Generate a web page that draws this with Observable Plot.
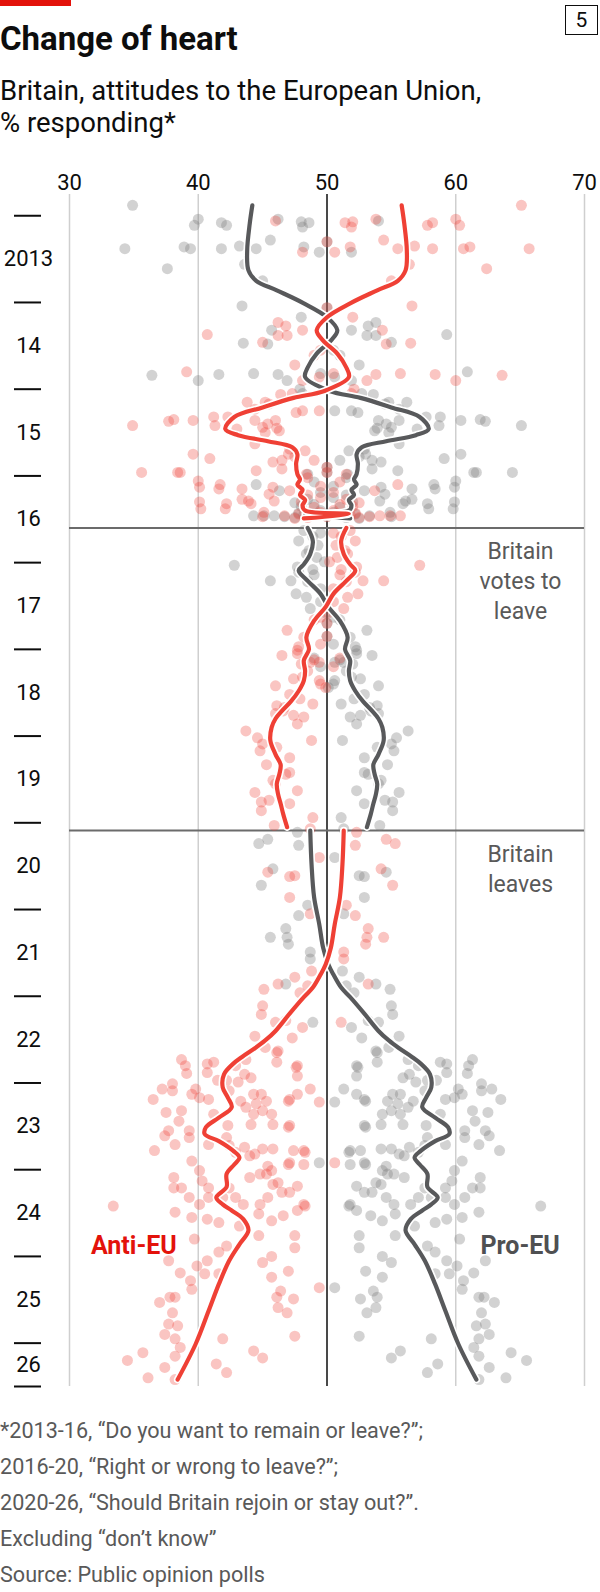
<!DOCTYPE html>
<html><head><meta charset="utf-8">
<script src="https://cdn.jsdelivr.net/npm/d3@7"></script>
<script src="https://cdn.jsdelivr.net/npm/@observablehq/plot@0.6"></script>
<style>
body{margin:0;background:#fff;font-family:Roboto,"Noto Sans",sans-serif;color:#0d0d0d}
#wrap{position:relative;width:600px;height:1592px;overflow:hidden;background:#fff}
.bar{position:absolute;left:0;top:0;width:71px;height:6px;background:#e3120b}
.title{position:absolute;left:0;top:22px;font-size:33px;font-weight:700;line-height:1;white-space:nowrap}
.num{position:absolute;left:565px;top:5px;width:31px;height:28px;border:1.5px solid #0d0d0d;font-size:21px;line-height:28px;text-align:center}
.sub{position:absolute;left:0;top:75px;font-size:27.5px;line-height:32px;white-space:nowrap}
#chart{position:absolute;left:0;top:150px}
.foot{position:absolute;left:0;top:1413px;font-size:21.6px;line-height:36px;color:#595959;white-space:nowrap}
</style></head>
<body><div id="wrap">
<div class="bar"></div>
<div class="title">Change of heart</div>
<div class="num">5</div>
<div class="sub">Britain, attitudes to the European Union,<br>% responding*</div>
<div id="chart"></div>
<div class="foot">*2013-16, “Do you want to remain or leave?”;<br>2016-20, “Right or wrong to leave?”;<br>2020-26, “Should Britain rejoin or stay out?”.<br>Excluding “don’t know”<br>Source: Public opinion polls</div>
</div>
<script>
// ---- data: [year, pro-EU %, anti-EU %] ----
const polls2013to16 = [
[2012.88,34.9,65.1],[2013.04,40.0,60.0],[2013.11,39.7,60.3],[2013.08,41.8,58.2],[2013.11,42.2,57.8],
[2013.04,46.2,53.8],[2013.07,48.0,52.0],[2013.08,48.6,51.4],[2013.13,48.1,51.9],[2013.06,54.0,46.0],
[2013.28,45.6,54.4],[2013.30,50.0,50.0],[2013.38,34.3,65.7],[2013.36,38.9,61.1],[2013.38,39.4,60.6],
[2013.38,41.8,58.2],[2013.35,43.2,56.8],[2013.38,44.5,55.5],[2013.36,48.2,51.8],[2013.42,49.4,50.6],
[2013.42,51.9,48.1],[2013.56,43.6,56.4],[2013.61,37.6,62.4],[2013.75,45.0,55.0],[2014.04,43.4,56.6],
[2014.06,50.0,50.0],[2014.17,48.0,52.0],[2014.23,53.8,46.2],[2014.27,53.2,46.8],[2014.32,45.7,54.3],
[2014.32,51.9,48.1],[2014.38,53.1,46.9],[2014.38,53.8,46.2],[2014.37,59.3,40.7],[2014.47,43.5,56.5],
[2014.48,45.4,54.6],[2014.46,55.0,45.0],[2014.55,50.5,49.5],[2014.61,51.0,49.0],[2014.72,52.5,47.5],
[2014.84,36.4,63.6],[2014.90,40.0,60.0],[2014.83,41.6,58.4],[2014.82,44.3,55.7],[2014.83,46.2,53.8],
[2014.90,46.9,53.1],[2014.90,51.9,48.1],[2014.80,60.9,39.1],[2014.86,50.6,49.4],[2014.82,49.5,50.5],
[2015.00,47.9,52.1],[2015.05,52.7,47.3],[2015.06,53.6,46.4],[2015.05,48.1,51.9],[2015.15,54.8,45.2],
[2015.15,56.2,43.8],[2015.17,54.5,45.5],[2015.25,50.6,49.4],[2015.25,51.9,48.1],[2015.23,55.6,44.4],
[2015.27,52.4,47.6],[2015.32,57.7,42.3],[2015.32,58.8,41.2],[2015.36,60.4,39.6],[2015.35,61.9,38.1],
[2015.37,62.3,37.7],[2015.42,65.1,34.9],[2015.36,54.0,46.0],[2015.40,54.6,45.4],[2015.36,55.6,44.4],
[2015.42,58.7,41.3],[2015.48,53.7,46.3],[2015.50,54.8,45.2],[2015.44,55.0,45.0],[2015.46,57.0,43.0],
[2015.45,53.9,46.1],[2015.63,55.6,44.4],[2015.75,60.4,39.6],[2015.80,59.1,40.9],[2015.69,52.9,47.1],
[2015.82,53.5,46.5],[2015.84,54.2,45.8],[2015.71,51.7,48.3],[2015.78,52.5,47.5],[2015.82,51.0,49.0],
[2015.75,53.0,47.0],[2015.96,61.6,38.4],[2015.96,64.4,35.6],[2015.94,55.5,44.5],[2015.92,53.5,46.5],
[2015.98,51.6,48.4],[2015.96,50.0,50.0],[2015.96,61.4,38.6],[2016.06,60.0,40.0],[2016.13,59.9,40.1],
[2016.15,56.6,43.4],[2016.15,58.4,41.6],[2016.13,54.2,45.8],[2016.10,44.5,55.5],[2016.17,46.3,53.7],
[2016.17,52.9,47.1],[2016.21,54.5,45.5],[2016.29,56.1,43.9],[2016.27,56.6,43.4],[2016.29,54.1,45.9],
[2016.38,59.8,40.2],[2016.38,57.9,42.1],[2016.25,50.5,49.5],[2016.30,52.0,48.0],[2016.33,49.0,51.0],
[2016.35,48.0,52.0],[2016.46,44.3,55.7],[2016.46,45.1,54.9],[2016.46,45.9,54.1],[2016.47,46.7,53.3],
[2016.48,47.5,52.5],[2016.45,48.2,51.8],[2016.47,50.0,50.0],[2016.48,51.5,48.5],[2016.49,52.5,47.5],
[2016.46,53.3,46.7],[2016.47,55.0,45.0],[2016.45,49.0,51.0],[2016.40,49.5,50.5],[2016.42,50.5,49.5],
[2016.36,51.0,49.0],[2016.43,47.8,52.2],[2016.44,52.2,47.8],[2016.31,47.5,52.5],[2016.27,48.5,51.5],
[2016.22,51.5,48.5],[2016.19,49.5,50.5],[2016.12,50.5,49.5],[2016.07,49.0,51.0],[2016.02,51.5,48.5],
[2015.98,48.5,51.5],[2015.90,50.0,50.0],[2016.30,59.9,40.1],[2016.32,57.8,42.2],[2016.32,55.9,44.1],
[2016.42,54.9,45.1],[2016.10,58.3,41.7]
];
const polls2016to20 = [
[2016.63,48.2,51.8],[2016.70,48.9,51.1],[2016.66,49.5,50.5],[2016.75,47.8,52.2],[2016.80,49.3,50.7],
[2016.86,48.6,51.4],[2016.90,48.4,51.6],[2016.94,49.2,50.8],[2016.99,49.8,50.2],[2017.03,42.8,57.2],
[2017.05,47.7,52.3],[2017.08,48.9,51.1],[2017.11,47.8,52.2],[2017.14,49.0,51.0],[2017.21,45.6,54.4],
[2017.21,47.2,52.8],[2017.22,48.5,51.5],[2017.30,49.5,50.5],[2017.36,47.6,52.4],[2017.40,48.4,51.6],
[2017.45,49.5,50.5],[2017.53,48.7,51.3],[2017.58,49.9,50.1],[2017.63,50.5,49.5],[2017.66,51.0,49.0],
[2017.70,50.0,50.0],[2017.78,53.1,46.9],[2017.85,50.0,50.0],[2017.86,51.8,48.2],[2017.94,50.5,49.5],
[2017.97,52.2,47.8],[2018.01,52.3,47.7],[2018.05,52.3,47.7],[2018.07,53.5,46.5],[2018.10,49.0,51.0],
[2018.12,51.0,49.0],[2018.15,51.3,48.7],[2018.15,50.6,49.4],[2018.17,52.0,48.0],[2018.20,49.5,50.5],
[2018.25,51.5,48.5],[2018.32,51.9,48.1],[2018.34,52.6,47.4],[2018.36,50.6,49.4],[2018.40,50.5,49.5],
[2018.42,54.0,46.0],[2018.44,50.1,49.9],[2018.52,52.9,47.1],[2018.57,52.1,47.9],[2018.63,51.1,48.9],
[2018.65,53.9,46.1],[2018.67,53.3,46.7],[2018.71,53.4,46.6],[2018.74,54.0,46.0],[2018.76,52.6,47.4],
[2018.78,51.8,48.2],[2018.86,52.3,47.7],[2018.94,56.3,43.7],[2019.02,55.4,44.6],[2019.05,51.2,48.8],
[2019.09,55.0,45.0],[2019.13,53.9,46.1],[2019.17,55.2,44.8],[2019.25,52.9,47.1],[2019.33,54.7,45.3],
[2019.42,52.9,47.1],[2019.44,53.2,46.8],[2019.51,54.2,45.8],[2019.55,54.0,46.0],[2019.63,52.3,47.7],
[2019.65,55.6,44.4],[2019.74,54.5,45.5],[2019.76,55.1,44.9],[2019.78,52.9,47.1],[2019.86,55.1,44.9],
[2019.94,51.1,48.9],[2020.03,54.1,45.9],[2020.07,51.3,48.7]
];
const polls2020to26 = [
[2020.11,47.7,52.3],[2020.19,45.4,54.6],[2020.24,44.7,55.3],[2020.26,47.8,52.2],[2020.40,50.6,49.4],
[2020.53,45.8,54.2],[2020.57,54.6,45.4],[2020.61,52.5,47.5],[2020.62,52.9,47.1],[2020.72,44.9,55.1],
[2020.86,52.9,47.1],[2020.95,48.5,51.5],[2021.05,51.3,48.7],[2021.07,47.8,52.2],[2021.22,46.8,53.2],
[2021.32,45.6,54.4],[2021.32,46.9,53.1],[2021.40,47.0,53.0],[2021.49,48.7,51.3],[2021.57,48.7,51.3],
[2021.71,51.2,48.8],[2021.78,52.5,47.5],[2021.86,53.8,46.2],[2021.86,46.8,53.2],[2021.88,51.5,48.5],
[2021.92,54.9,45.1],[2021.96,52.1,47.9],[2022.11,55.0,45.0],[2022.21,55.1,44.9],[2022.28,53.2,46.8],
[2022.30,48.9,51.1],[2022.30,54.0,46.0],[2022.36,51.9,48.1],[2022.46,55.6,44.4],[2022.48,52.7,47.3],
[2022.59,54.8,45.2],[2022.63,53.8,46.2],[2022.65,53.9,46.1],[2022.73,56.3,43.7],[2022.73,61.3,38.7],
[2022.76,53.9,46.1],[2022.76,58.8,41.2],[2022.78,59.3,40.7],[2022.80,52.3,47.7],[2022.80,57.1,42.9],
[2022.80,61.0,39.0],[2022.82,52.4,47.6],[2022.88,59.3,40.7],[2022.89,60.9,39.1],[2022.90,56.4,43.6],
[2022.92,52.3,47.7],[2022.94,55.9,44.1],[2022.97,58.5,41.5],[2022.97,57.8,42.2],[2022.99,56.9,43.1],
[2023.01,62.0,38.0],[2023.07,62.8,37.2],[2023.07,60.2,39.8],[2023.07,51.3,48.7],[2023.09,62.0,38.0],
[2023.09,57.6,42.4],[2023.13,60.5,39.5],[2023.13,55.7,44.3],[2023.13,55.1,44.9],[2023.13,52.3,47.7],
[2023.17,59.9,40.1],[2023.19,63.5,36.5],[2023.19,59.2,40.8],[2023.19,52.9,47.1],[2023.21,56.7,43.3],
[2023.21,54.7,45.3],[2023.21,53.0,47.0],[2023.22,50.6,49.4],[2023.24,55.5,44.5],[2023.28,56.3,43.7],
[2023.32,61.3,38.7],[2023.32,55.0,45.0],[2023.34,62.5,37.5],[2023.36,58.8,41.2],[2023.36,55.7,44.3],
[2023.36,54.3,45.7],[2023.44,61.5,38.5],[2023.48,55.9,44.1],[2023.48,54.2,45.8],[2023.49,52.9,47.1],
[2023.49,57.7,42.3],[2023.51,53.0,47.0],[2023.55,62.3,37.7],[2023.55,60.7,39.3],[2023.61,62.6,37.4],
[2023.63,60.7,39.3],[2023.63,57.8,42.2],[2023.71,61.8,38.2],[2023.71,59.2,40.8],[2023.72,57.6,42.4],
[2023.74,56.4,43.6],[2023.76,55.0,45.0],[2023.76,54.2,45.8],[2023.78,63.4,36.6],[2023.78,52.6,47.4],
[2023.78,51.8,48.2],[2023.80,51.7,48.3],[2023.80,57.1,42.9],[2023.82,55.6,44.4],[2023.84,56.0,44.0],
[2023.90,60.5,39.5],[2023.92,49.4,50.6],[2023.92,52.9,47.1],[2023.94,51.8,48.2],[2023.94,53.0,47.0],
[2023.96,54.6,45.4],[2024.01,54.3,45.7],[2024.01,59.9,40.1],[2024.05,55.2,44.8],[2024.05,54.7,45.3],
[2024.09,61.9,38.1],[2024.09,56.0,44.0],[2024.13,59.7,40.3],[2024.15,53.8,46.2],[2024.17,54.2,45.8],
[2024.19,52.3,47.7],[2024.21,61.9,38.1],[2024.21,61.3,38.7],[2024.21,59.2,40.8],[2024.21,57.6,42.4],
[2024.26,53.5,46.5],[2024.26,52.9,47.1],[2024.32,60.7,39.3],[2024.32,59.2,40.8],[2024.32,57.1,42.9],
[2024.32,54.6,45.4],[2024.32,58.1,41.9],[2024.40,59.9,40.1],[2024.40,56.5,43.5],[2024.40,55.2,44.8],
[2024.40,51.8,48.2],[2024.42,66.6,33.4],[2024.42,51.7,48.3],[2024.47,52.3,47.7],[2024.49,61.8,38.2],
[2024.51,55.3,44.7],[2024.53,53.4,46.6],[2024.55,60.5,39.5],[2024.57,59.3,40.7],[2024.59,54.3,45.7],
[2024.61,58.4,41.6],[2024.65,56.8,43.2],[2024.76,55.3,44.7],[2024.76,52.5,47.5],[2024.80,60.3,39.7],
[2024.88,57.8,42.2],[2024.90,52.5,47.5],[2024.95,58.4,41.6],[2025.00,54.3,45.7],[2025.05,59.3,40.7],
[2025.05,62.3,37.7],[2025.07,55.0,45.0],[2025.11,60.1,39.9],[2025.17,53.0,47.0],[2025.19,61.4,38.6],
[2025.20,59.5,40.5],[2025.20,58.4,41.6],[2025.24,54.3,45.7],[2025.28,60.6,39.4],[2025.36,50.6,49.4],
[2025.38,60.5,39.5],[2025.40,53.6,46.4],[2025.47,62.2,37.8],[2025.47,61.8,38.2],[2025.47,53.9,46.1],
[2025.49,52.6,47.4],[2025.53,63.0,37.0],[2025.59,53.8,46.2],[2025.65,62.0,38.0],[2025.65,53.1,46.9],
[2025.78,62.3,37.7],[2025.80,61.6,38.4],[2025.90,62.6,37.4],[2025.92,52.5,47.5],[2025.95,61.8,38.2],
[2025.95,58.1,41.9],[2026.05,61.4,38.6],[2026.09,55.7,44.3],[2026.11,64.3,35.7],[2026.15,61.8,38.2],
[2026.17,55.0,45.0],[2026.20,65.5,34.5],[2026.24,58.6,41.4],[2026.28,62.6,37.4],[2026.34,57.8,42.2],
[2026.40,63.9,36.1],[2026.42,61.8,38.2]
];
// smoothed trends: [year, pro-EU %, anti-EU %]
const trend2013to16 = [
[2012.88,44.2,55.8],[2013.09,44.0,56.0],[2013.40,43.8,56.2],[2013.63,43.9,56.1],[2013.75,44.5,55.5],
[2013.86,46.1,53.9],[2014.01,48.2,51.8],[2014.17,50.0,50.0],[2014.32,50.8,49.2],[2014.44,50.3,49.7],
[2014.59,49.2,50.8],[2014.75,48.5,51.5],[2014.86,48.3,51.7],[2015.02,50.2,49.8],[2015.10,52.6,47.4],
[2015.21,55.0,45.0],[2015.32,57.2,42.8],[2015.46,57.9,42.1],[2015.53,56.9,43.1],[2015.60,54.6,45.4],
[2015.67,52.7,47.3],[2015.75,52.3,47.7],[2015.86,52.4,47.6],[2015.98,52.3,47.7],[2016.04,52.1,47.9],
[2016.10,52.3,47.7],[2016.16,51.9,48.1],[2016.22,52.1,47.9],[2016.28,51.7,48.3],[2016.34,51.9,48.1],
[2016.40,51.7,48.3],[2016.44,48.3,51.7],[2016.49,51.8,48.2]
];
const trend2016to20 = [
[2016.60,48.5,51.5],[2016.75,48.9,51.1],[2016.90,48.7,51.3],[2017.02,48.2,51.8],[2017.09,47.8,52.2],
[2017.21,48.5,51.5],[2017.36,49.5,50.5],[2017.51,50.1,49.9],[2017.67,51.0,49.0],[2017.86,51.6,48.4],
[2018.00,51.4,48.6],[2018.13,51.8,48.2],[2018.25,51.7,48.3],[2018.36,51.8,48.2],[2018.48,52.2,47.8],
[2018.60,52.8,47.2],[2018.71,53.5,46.5],[2018.80,54.0,46.0],[2018.90,54.3,45.7],[2019.05,54.4,45.6],
[2019.21,54.0,46.0],[2019.33,53.6,46.4],[2019.44,53.7,46.3],[2019.55,53.9,46.1],[2019.67,53.8,46.2],
[2019.78,53.6,46.4],[2019.90,53.4,46.6],[2020.05,53.1,46.9]
];
const trend2020to26 = [
[2020.09,48.7,51.3],[2020.48,48.8,51.2],[2020.86,49.0,51.0],[2021.17,49.4,50.6],[2021.44,49.7,50.3],
[2021.63,50.1,49.9],[2021.75,50.5,49.5],[2021.90,51.1,48.9],[2022.01,51.8,48.2],[2022.20,52.9,47.1],
[2022.40,54.0,46.0],[2022.51,54.8,45.2],[2022.60,55.6,44.4],[2022.70,56.6,43.4],[2022.78,57.3,42.7],
[2022.90,58.0,42.0],[2023.05,58.1,41.9],[2023.17,57.7,42.3],[2023.28,57.4,42.6],[2023.40,58.4,41.6],
[2023.51,59.4,40.6],[2023.59,59.5,40.5],[2023.67,58.4,41.6],[2023.78,57.3,42.7],[2023.86,56.8,43.2],
[2023.94,57.2,42.8],[2024.05,57.8,42.2],[2024.20,57.8,42.2],[2024.32,58.6,41.4],[2024.40,58.1,41.9],
[2024.47,57.4,42.6],[2024.57,56.5,43.5],[2024.70,56.1,43.9],[2024.86,56.8,43.2],[2025.05,57.6,42.4],
[2025.32,58.4,41.6],[2025.63,59.2,40.8],[2026.01,60.2,39.8],[2026.42,61.6,38.4]
];
const xTicks = [30, 40, 50, 60, 70];
const yearTicks = [2013,2014,2015,2016,2017,2018,2019,2020,2021,2022,2023,2024,2025,2026,2026.5];
const yearLabels = ["2013","14","15","16","17","18","19","20","21","22","23","24","25","26"];
const chartStart = 2012.755;
const eventYears = [2016.6, 2020.09];
const eventLabels = ["Britain\nvotes to\nleave", "Britain\nleaves"];
const seriesNames = ["Anti-EU", "Pro-EU"];

// ---- build tables ----
const periods = [
  {id: "2013-16", polls: polls2013to16, trend: trend2013to16},
  {id: "2016-20", polls: polls2016to20, trend: trend2016to20},
  {id: "2020-26", polls: polls2020to26, trend: trend2020to26}
];
const proDots = [], antiDots = [], proTrend = [], antiTrend = [];
for (const p of periods) {
  for (const [year, pro, anti] of p.polls) {
    proDots.push({year, value: pro});
    antiDots.push({year, value: anti});
  }
  for (const [year, pro, anti] of p.trend) {
    proTrend.push({year, value: pro, seg: p.id});
    antiTrend.push({year, value: anti, seg: p.id});
  }
}
const labelPos = yearLabels.map((t, i) => ({y: (yearTicks[i] + yearTicks[i + 1]) / 2, t}));
const labelMap = new Map(labelPos.map(d => [d.y, d.t]));
const events = eventYears.map((year, i) => ({year, label: eventLabels[i]}));

const RED = "#ef4035", GREY = "#58595b";

const chart = Plot.plot({
  width: 600, height: 1250,
  marginTop: 44, marginBottom: 14, marginLeft: 69, marginRight: 16,
  x: {domain: [30, 70]},
  y: {domain: [chartStart, yearTicks[yearTicks.length - 1]], reverse: true},
  style: {fontFamily: "Roboto, 'Noto Sans', sans-serif", fontSize: "22px", color: "#0d0d0d", background: "white", overflow: "visible"},
  marks: [
    Plot.ruleX(xTicks.filter(d => d !== 50), {stroke: "#cfcfcf", strokeWidth: 1.5}),
    Plot.ruleX([50], {stroke: "#0d0d0d", strokeWidth: 1.5}),
    Plot.ruleY(eventYears, {stroke: "#6b6b6b", strokeWidth: 2}),
    Plot.dot(proDots, {x: "value", y: "year", r: 5.5, fill: "#7a7a7a", fillOpacity: 0.34}),
    Plot.dot(antiDots, {x: "value", y: "year", r: 5.5, fill: RED, fillOpacity: 0.3}),
    Plot.line(proTrend, {x: "value", y: "year", z: "seg", curve: "catmull-rom", stroke: "white", strokeWidth: 7.5}),
    Plot.line(proTrend, {x: "value", y: "year", z: "seg", curve: "catmull-rom", stroke: GREY, strokeWidth: 4.2}),
    Plot.line(antiTrend, {x: "value", y: "year", z: "seg", curve: "catmull-rom", stroke: "white", strokeWidth: 7.5}),
    Plot.line(antiTrend, {x: "value", y: "year", z: "seg", curve: "catmull-rom", stroke: RED, strokeWidth: 4.2}),
    Plot.text(events, {y: "year", text: "label", frameAnchor: "right", dx: -64, dy: 10, lineAnchor: "top", textAnchor: "middle", fontSize: 23, lineHeight: 1.3, fill: "#595959"}),
    Plot.text([seriesNames[0]], {x: 35, y: 2024.88, text: d => d, fontSize: 25, fontWeight: 700, fill: "#e3120b"}),
    Plot.text([seriesNames[1]], {x: 65, y: 2024.88, text: d => d, fontSize: 25, fontWeight: 700, fill: "#4f5052"}),
    Plot.axisX(xTicks, {anchor: "top", tickSize: 0, tickPadding: 5, fontSize: 22, label: null}),
    Plot.axisY(yearTicks, {anchor: "left", tickSize: 27, dx: -28, strokeWidth: 2, fill: "none", label: null}),
    Plot.axisY(labelPos.map(d => d.y), {anchor: "left", tickSize: 0, tickPadding: 0, dx: -41, textAnchor: "middle", tickFormat: d => labelMap.get(d), fontSize: 22, label: null})
  ]
});
document.getElementById("chart").appendChild(chart);
</script>
</body></html>
